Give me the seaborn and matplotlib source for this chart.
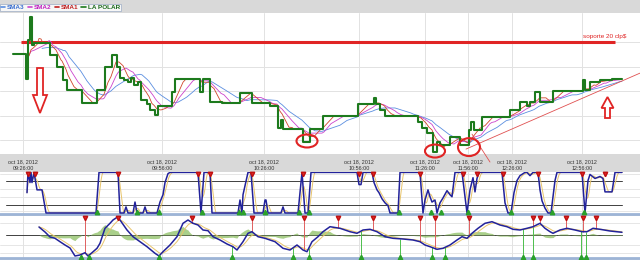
import numpy as np
import pandas as pd
import matplotlib
matplotlib.use("Agg")
import matplotlib.pyplot as plt
import seaborn as sns
from matplotlib.patches import Ellipse, FancyArrow
from matplotlib.lines import Line2D

# ---------------- data ----------------
tick_pos = [23, 162, 264, 359, 425, 468, 512, 582]
tick_time = ["09:26:00", "09:56:00", "10:26:00", "10:56:00",
             "11:26:00", "11:56:00", "12:26:00", "12:56:00"]
tick_date = "oct 18, 2012"

# LA POLAR price (bar index, price)
price_x = [13, 26, 28, 30, 32, 34, 50, 57, 63, 67,
           82, 97, 105, 112, 117, 120, 124, 128, 131, 134,
           138, 141, 147, 150, 155, 158, 172, 175, 200, 203,
           210, 222, 240, 252, 270, 278, 281, 283, 303, 310,
           323, 358, 374, 376, 380, 385, 418, 422, 427, 433,
           437, 440, 450, 460, 469, 471, 474, 482, 510, 520,
           527, 530, 535, 540, 553, 583, 585, 590, 600, 612,
           622]
price = [19.951, 19.849, 20.008, 20.102, 19.988, 19.996, 19.947, 19.898, 19.845, 19.804,
         19.751, 19.804, 19.898, 19.947, 19.898, 19.853, 19.845, 19.837, 19.853, 19.824,
         19.837, 19.763, 19.747, 19.722, 19.702, 19.739, 19.796, 19.849, 19.796, 19.849,
         19.755, 19.751, 19.792, 19.751, 19.739, 19.649, 19.682, 19.645, 19.592, 19.645,
         19.698, 19.747, 19.771, 19.747, 19.722, 19.698, 19.673, 19.649, 19.629, 19.551,
         19.592, 19.580, 19.612, 19.580, 19.641, 19.673, 19.641, 19.694, 19.722, 19.755,
         19.739, 19.755, 19.796, 19.755, 19.800, 19.845, 19.804, 19.837, 19.845, 19.849,
         19.849]
sma_windows = {"SMA1": 12, "SMA2": 22, "SMA3": 38}
support_level = 20.0
support_x = [21, 615]
trend_x = [466, 640]
trend_price = [19.563, 19.873]
circle_x = [307, 435, 469]
circle_price = [19.596, 19.555, 19.571]

# oscillator (panel 2)
osc_x = [27, 28, 30, 31, 32, 34, 37, 42, 46, 96,
         99, 118, 120, 124, 126, 128, 133, 135, 137, 143,
         145, 147, 157, 160, 163, 165, 168, 170, 198, 201,
         204, 210, 212, 238, 240, 242, 243, 248, 251, 254,
         263, 265, 266, 268, 281, 283, 285, 298, 302, 305,
         308, 311, 357, 359, 361, 363, 372, 374, 377, 379,
         382, 385, 388, 390, 398, 400, 420, 423, 425, 428,
         430, 432, 435, 437, 440, 443, 447, 450, 452, 455,
         462, 467, 470, 473, 475, 477, 479, 502, 505, 508,
         511, 514, 517, 520, 525, 527, 530, 533, 538, 540,
         542, 545, 548, 551, 553, 555, 557, 582, 585, 588,
         590, 595, 600, 603, 605, 612, 615, 622]
osc = [50, 100, 75, 100, 75, 100, 57, 57, 0, 0,
       100, 100, 0, 0, 15, 0, 0, 27, 0, 0,
       15, 0, 0, 27, 45, 75, 97, 100, 100, 0,
       100, 100, 0, 0, 32, 0, 45, 100, 100, 0,
       0, 32, 32, 0, 0, 15, 0, 0, 100, 0,
       0, 100, 100, 70, 70, 100, 100, 75, 57, 50,
       35, 25, 18, 0, 0, 100, 100, 0, 32, 57,
       40, 27, 32, 0, 25, 37, 55, 45, 40, 100,
       100, 0, 57, 87, 52, 85, 100, 100, 25, 0,
       0, 50, 80, 92, 100, 100, 92, 100, 100, 57,
       30, 12, 0, 0, 40, 80, 100, 100, 0, 80,
       95, 85, 90, 85, 52, 52, 100, 100]
osc_sell = [28, 35, 118, 198, 210, 252, 303, 359, 373, 420, 463, 477, 503, 538, 582, 605]
osc_buy = [97, 137, 159, 202, 239, 243, 265, 299, 309, 399, 431, 441, 468, 511, 552, 584]

# MACD-like indicator (panel 3)
macd_x = [39, 45, 50, 55, 60, 65, 70, 75, 80, 85,
          88, 92, 97, 100, 105, 110, 113, 118, 120, 127,
          133, 140, 147, 155, 159, 163, 170, 177, 183, 188,
          193, 198, 203, 208, 213, 220, 227, 233, 237, 243,
          248, 252, 258, 265, 275, 283, 290, 297, 303, 307,
          312, 318, 323, 330, 340, 350, 357, 363, 370, 377,
          385, 393, 403, 413, 420, 425, 430, 437, 443, 450,
          457, 462, 467, 472, 478, 485, 492, 500, 507, 513,
          520, 527, 533, 540, 545, 550, 553, 560, 567, 575,
          582, 587, 593, 600, 610, 622]
macd = [8, 3, -2, -3.3, -6.7, -10, -13, -21, -20, -17.7,
        -21, -17.7, -13.3, -8.3, 6.7, 11.7, 15, 18.3, 15, 5,
        -1.7, -6.7, -11.7, -18.3, -21, -16.7, -10, -1.7, 11.7, 15,
        11.7, 10, 5, 4.3, -1.7, -5, -9, -11.7, -15, -6.7,
        1.7, 3.3, -1.7, -3.3, -6.7, -13.3, -15, -10, -15, -16.7,
        -6.7, -1.7, 3.3, 8.3, 6.7, 3.3, 1.7, 5, 5.7, 3.3,
        -1.7, -3.3, -4, -5, -6.7, -10, -11.7, -14.3, -13.3, -10,
        -5, -1.7, -3.3, 1.7, 6.7, 11.7, 13.3, 10, 8.3, 5.7,
        5, 6.7, 8.3, 11.7, 6.7, 3.3, 1.7, 5, 6.7, 5,
        3.3, 3.3, 6.7, 5.7, 4, 2.7]
macd_sell = [85, 118, 192, 252, 304, 338, 373, 420, 435, 469, 533, 540, 566, 583, 596]
macd_buy = [81, 89, 159, 232, 293, 309, 361, 400, 432, 445, 523, 533, 581, 586]

# ---------------- style ----------------
sns.set_theme(style="white")
plt.rcParams["font.family"] = ["Liberation Sans", "DejaVu Sans"]

C_GREEN = "#1d7a1d"
C_SMA1 = "#d0452a"
C_SMA2 = "#cc44cc"
C_SMA3 = "#5a8ee0"
C_RED = "#e02424"
C_NAVY = "#22229a"
C_YEL = "#e8c46a"
C_GRID = "#e2e2e2"
C_BORDER = "#9db4d6"

fig = plt.figure(figsize=(6.4, 2.6), dpi=100, facecolor="#d9d9d9")
H = 260.0
ax = fig.add_axes([0, (H - 154) / H, 1, 141 / H])
ax2 = fig.add_axes([0, (H - 214) / H, 1, 42 / H])
ax3 = fig.add_axes([0, (H - 258) / H, 1, 42 / H])

for a in (ax, ax2, ax3):
    a.set_facecolor("white")
    a.set_xlim(0, 640)
    for s in a.spines.values():
        s.set_visible(False)
    for xp in tick_pos:
        a.axvline(xp, color=C_GRID, lw=0.7, zorder=0)
    a.tick_params(left=False, labelleft=False, bottom=False)

# ---------- main panel ----------
ax.set_ylim(19.5429, 20.1184)
for yv in [20.0, 19.9, 19.8, 19.7, 19.6]:
    ax.axhline(yv, color=C_GRID, lw=0.7, zorder=0)

grid = np.arange(price_x[0], price_x[-1] + 1)
ps = pd.Series(price, index=price_x).reindex(grid).ffill()
for name, col in [("SMA3", C_SMA3), ("SMA2", C_SMA2), ("SMA1", C_SMA1)]:
    w = sma_windows[name]
    sm = ps.rolling(w, min_periods=int(w * 0.8)).mean()
    d = pd.DataFrame({"x": grid, "y": sm.values}).dropna()
    sns.lineplot(data=d, x="x", y="y", ax=ax, color=col, lw=0.6,
                 estimator=None, sort=False, zorder=3)

ax.plot(support_x, [support_level, support_level], color=C_RED, lw=2.2,
        solid_capstyle="butt", zorder=2)
ax.text(583, 20.024, "soporte 20 clp$", color=C_RED, fontsize=4.6,
        va="center", ha="left")

sns.lineplot(x=price_x, y=price, ax=ax, color=C_GREEN, lw=1.5,
             drawstyle="steps-post", estimator=None, sort=False, zorder=4)

ax.plot(trend_x, trend_price, color="#e05050", lw=0.6, zorder=3)
ax.plot([472, 490], [19.624, 19.51], color="#e05050", lw=0.6, zorder=3,
        clip_on=False)

for cx, cy, w, h in zip(circle_x, circle_price, [21, 20, 22], [0.053, 0.053, 0.073]):
    ax.add_patch(Ellipse((cx, cy), w, h, fill=False, edgecolor=C_RED,
                         lw=1.5, zorder=5, clip_on=False))

def py(p):
    return 20 - (p - 42) * 0.1 / 24.5

ax.add_patch(FancyArrow(40, py(68), 0, py(113) - py(68), width=6,
                        head_width=14, head_length=py(95) - py(113),
                        length_includes_head=True, facecolor="white",
                        edgecolor=C_RED, lw=1.3, zorder=5))
ax.add_patch(FancyArrow(607.5, py(118), 0, py(97) - py(118), width=5,
                        head_width=12, head_length=py(97) - py(108),
                        length_includes_head=True, facecolor="white",
                        edgecolor=C_RED, lw=1.3, zorder=5))

ax.set_xticks(tick_pos)
ax.set_xticklabels([f"{tick_date}\n{t}" for t in tick_time], fontsize=3.9,
                   color="#333333", linespacing=1.35)
ax.tick_params(axis="x", length=0, pad=4, labelbottom=True)
ax.set_xlabel("")
ax.set_ylabel("")

# ---------- panel 2 ----------
ax2.set_ylim(-2.5, 101)
for yv in [95, 60, 40, 5]:
    ax2.axhline(yv, color=C_GRID, lw=0.6, zorder=0)
for yv in [80, 20]:
    ax2.axhline(yv, color="#404040", lw=0.7, xmin=6 / 640, xmax=622 / 640, zorder=1)
og = np.arange(osc_x[0], osc_x[-1] + 1)
oy = pd.Series(np.interp(og, osc_x, osc)).rolling(5, min_periods=1).mean()
sns.lineplot(x=og, y=oy.values, ax=ax2, color=C_YEL, lw=0.7,
             estimator=None, sort=False, zorder=2)
sns.lineplot(x=osc_x, y=osc, ax=ax2, color=C_NAVY, lw=1.1,
             estimator=None, sort=False, zorder=3)
ax2.plot(osc_sell, [97] * len(osc_sell), "v", color=C_RED, ms=3.2,
         mec="#c01010", zorder=4, clip_on=False)
ax2.plot(osc_buy, [2] * len(osc_buy), "^", color="#2aa02a", ms=3.2,
         zorder=4, clip_on=False)
ax2.spines["bottom"].set_visible(True)
ax2.spines["bottom"].set_color(C_BORDER)
ax2.spines["bottom"].set_linewidth(2)
ax2.set_xticks([])
ax2.set_xlabel("")
ax2.set_ylabel("")

# ---------- panel 3 ----------
ax3.set_ylim(-23, 19)
for yv in [12, -10, -18]:
    ax3.axhline(yv, color=C_GRID, lw=0.6, zorder=0)
ax3.axhline(0, color="#404040", lw=0.7, xmin=6 / 640, xmax=622 / 640, zorder=1)
mg = np.arange(macd_x[0], macd_x[-1] + 1)
mv = pd.Series(np.interp(mg, macd_x, macd))
sig = mv.ewm(span=10, adjust=False).mean()
hist = mv - sig
ax3.fill_between(mg, 0, hist.values, color="#8dc063", alpha=0.75, lw=0, zorder=1)
sns.lineplot(x=mg, y=sig.values, ax=ax3, color=C_YEL, lw=0.7,
             estimator=None, sort=False, zorder=2)
sns.lineplot(x=macd_x, y=macd, ax=ax3, color=C_NAVY, lw=1.1,
             estimator=None, sort=False, zorder=3)
sell_v = np.interp(macd_sell, macd_x, macd)
buy_v = np.interp(macd_buy, macd_x, macd)
ax3.vlines(macd_sell, sell_v, 17, color="#e06060", lw=0.7, zorder=2)
ax3.vlines(macd_buy, -21.5, buy_v, color="#4cbf4c", lw=0.7, zorder=2)
ax3.plot(macd_sell, [17] * len(macd_sell), "v", color=C_RED, ms=3.2,
         mec="#c01010", zorder=4, clip_on=False)
ax3.plot(macd_buy, [-21.5] * len(macd_buy), "^", color="#2aa02a", ms=3.2,
         zorder=4, clip_on=False)
ax3.spines["bottom"].set_visible(True)
ax3.spines["bottom"].set_color(C_BORDER)
ax3.spines["bottom"].set_linewidth(2)
ax3.set_xticks([])
ax3.set_xlabel("")
ax3.set_ylabel("")

# ---------- legend ----------
handles = [Line2D([0], [0], color=c, lw=1.2) for c in (C_SMA3, C_SMA2, "#c02020", C_GREEN)]
labels = ["SMA3", "SMA2", "SMA1", "LA POLAR"]
leg = fig.legend(handles, labels, loc="upper left", bbox_to_anchor=(0.0, 1 - 3.5 / H),
                 ncol=4, prop={"size": 4.6, "weight": "bold"}, frameon=True,
                 fancybox=False, edgecolor="#9aaac4", handlelength=0.7,
                 handletextpad=0.25, columnspacing=0.5, borderpad=0.15,
                 borderaxespad=0.0)
leg.get_frame().set_linewidth(0.6)
for t, c in zip(leg.get_texts(), ["#3a6fd0", "#c020c0", "#c02020", "#1a6a1a"]):
    t.set_color(c)

fig.savefig("out.png", dpi=100, facecolor=fig.get_facecolor())
